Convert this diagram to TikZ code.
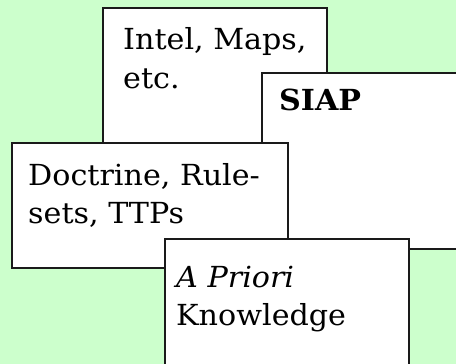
\documentclass[tikz,border=0pt]{standalone}
\usepackage{fontspec}
\setmainfont[FakeStretch=1.04]{DejaVu Serif}
\definecolor{paper}{HTML}{CCFFCC}
\definecolor{edge}{HTML}{1A1A1A}
\tikzset{
  card/.style={draw=edge, fill=white, line width=1.7pt, rectangle, anchor=north west, inner sep=0pt},
  txt/.style={anchor=base west, inner sep=0pt, font=\fontsize{29}{35}\selectfont},
}
\begin{document}
\begin{tikzpicture}[x=1pt,y=-1pt]
  \fill[paper] (0,0) rectangle (456,364);
  \useasboundingbox (0,0) rectangle (456,364);
  \clip (0,0) rectangle (456,364);
  % back card
  \node[card, minimum width=224pt, minimum height=140pt] (intel) at (102,7) {};
  \node[txt] (intelA) at (123,49) {Intel, Maps,};
  \node[txt] (intelB) at (123,88) {etc.};
  % SIAP card, running off the right edge
  \node[card, minimum width=230pt, minimum height=176pt] (siap) at (261,72) {};
  \node[txt, font=\fontsize{29}{35}\selectfont\bfseries] (siapT) at (279,110) {SIAP};
  % doctrine card
  \node[card, minimum width=276pt, minimum height=125pt] (doct) at (11,142) {};
  \node[txt] (doctA) at (28,185) {Doctrine, Rule-};
  \node[txt] (doctB) at (28,223) {sets, TTPs};
  % front card, running off the bottom edge
  \node[card, minimum width=244pt, minimum height=160pt] (prio) at (164,238) {};
  \node[txt] (prioA) at (176,287) {\itshape A Priori};
  \node[txt] (prioB) at (176,325) {Knowledge};
\end{tikzpicture}
\end{document}
